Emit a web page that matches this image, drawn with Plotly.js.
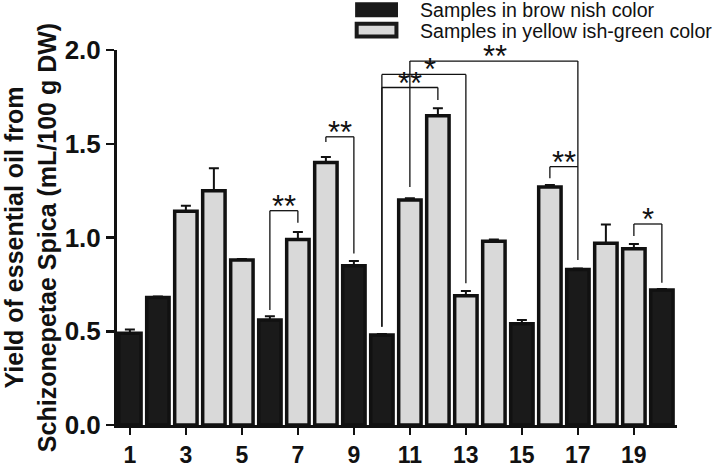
<!DOCTYPE html>
<html>
<head>
<meta charset="utf-8">
<script src="https://cdn.plot.ly/plotly-3.0.1.min.js"></script>
<style>html,body{margin:0;padding:0;background:#fff;}#chart{width:720px;height:467px;}</style>
</head>
<body>
<div id="chart"></div>
<script>
// ---- data ----
const samples = [1,2,3,4,5,6,7,8,9,10,11,12,13,14,15,16,17,18,19,20];
const colorGroup = ['B','B','G','G','G','B','G','G','B','B','G','G','G','G','B','G','B','G','G','B']; // B = brownish, G = yellowish-green
const yieldMean = [0.49,0.68,1.14,1.25,0.88,0.56,0.99,1.40,0.85,0.48,1.20,1.65,0.69,0.98,0.54,1.27,0.83,0.97,0.94,0.72];
const yieldSD   = [0.02,0.005,0.03,0.12,0.005,0.02,0.04,0.03,0.025,0.005,0.01,0.04,0.025,0.01,0.02,0.01,0.005,0.10,0.025,0.005];
const groupNames = {B: 'Samples in brow nish color', G: 'Samples in yellow ish-green color'};
const xTickVals = [1,3,5,7,9,11,13,15,17,19];
const yTickVals = [0.0,0.5,1.0,1.5,2.0];
// significance brackets: [left sample, right sample, bracket level, left leg bottom, right leg bottom, label, label x, label y]
const brackets = [
  [6, 7, 1.143, 0.613, 1.079, '**', 6.5, 1.143],
  [8, 9, 1.537, 1.51, 0.915, '**', 8.5, 1.537],
  [10, 12, 1.80, 0.524, 1.733, '**', 11.0, 1.80],
  [10, 13, 1.87, 0.524, 0.756, '*', 11.72, 1.87],
  [11, 17, 1.941, 1.27, 0.88, '**', 14.04, 1.941],
  [16, 17, 1.378, 1.316, 1.378, '**', 16.5, 1.378],
  [19, 20, 1.072, 1.008, 0.759, '*', 19.5, 1.072]
];

const FONT = '"Liberation Sans", Arial, sans-serif';
const fillColors = {B: '#1a1a1a', G: '#d9d9d9'};

function groupTrace(g) {
  const xs = [], ys = [], es = [];
  samples.forEach((s, i) => { if (colorGroup[i] === g) { xs.push(s); ys.push(yieldMean[i]); es.push(yieldSD[i]); } });
  return {
    type: 'bar', x: xs, y: ys, name: groupNames[g], width: 0.8, showlegend: false,
    marker: {color: fillColors[g], line: {color: '#111', width: 3.5}},
    error_y: {type: 'data', array: es, arrayminus: es.map(() => 0), symmetric: false, color: '#111', thickness: 2, width: 5}
  };
}
const traces = [groupTrace('B'), groupTrace('G')];

const shapes = [];
const annotations = [];
brackets.forEach(b => {
  const [l, r, lev, lb, rb, lab, lx, ly] = b;
  const line = {color: '#111', width: 1.3};
  shapes.push({type: 'line', xref: 'x', yref: 'y', x0: l, x1: l, y0: lb, y1: lev, line});
  shapes.push({type: 'line', xref: 'x', yref: 'y', x0: l, x1: r, y0: lev, y1: lev, line});
  shapes.push({type: 'line', xref: 'x', yref: 'y', x0: r, x1: r, y0: rb, y1: lev, line});
  annotations.push({xref: 'x', yref: 'y', x: lx, y: ly, text: lab, showarrow: false, xanchor: 'center', yanchor: 'bottom', yshift: -15,
    font: {family: FONT, size: 31, color: '#111'}});
});
// legend drawn manually
shapes.push({type: 'rect', xref: 'paper', yref: 'paper', x0: 0.427, x1: 0.5, y0: 1.09, y1: 1.125, fillcolor: '#1a1a1a', line: {color: '#1a1a1a', width: 2}});
shapes.push({type: 'rect', xref: 'paper', yref: 'paper', x0: 0.428, x1: 0.499, y0: 1.036, y1: 1.07, fillcolor: '#d9d9d9', line: {color: '#1a1a1a', width: 4}});
annotations.push({xref: 'paper', yref: 'paper', x: 0.5375, y: 1.106, xanchor: 'left', yanchor: 'middle', showarrow: false, text: groupNames.B, font: {family: FONT, size: 19.6, color: '#111'}});
annotations.push({xref: 'paper', yref: 'paper', x: 0.5375, y: 1.05, xanchor: 'left', yanchor: 'middle', showarrow: false, text: groupNames.G, font: {family: FONT, size: 19.6, color: '#111'}});

const layout = {
  width: 720, height: 467,
  margin: {l: 117, r: 43, t: 50, b: 42},
  paper_bgcolor: '#fff', plot_bgcolor: '#fff',
  barmode: 'overlay',
  showlegend: false,
  xaxis: {
    range: [0.54, 20.54], tickvals: xTickVals, ticktext: xTickVals.map(v => '<b>' + v + '</b>'),
    showline: true, linecolor: '#111', linewidth: 3, ticks: 'outside', ticklen: 7, tickwidth: 2.5, tickcolor: '#111',
    showgrid: false, zeroline: false, tickfont: {family: FONT, size: 23, color: '#111'}
  },
  yaxis: {
    range: [0, 2.0], tickvals: yTickVals, ticktext: yTickVals.map(v => '<b>' + v.toFixed(1) + '</b>'),
    showline: true, linecolor: '#111', linewidth: 3, ticks: 'outside', ticklen: 8, tickwidth: 2.5, tickcolor: '#111',
    showgrid: false, zeroline: false, tickfont: {family: FONT, size: 26, color: '#111'},
    title: {text: '<b>Yield of essential oil from<br>Schizonepetae Spica (mL/100 g DW)</b>', font: {family: FONT, size: 25, color: '#111'}, standoff: 4}
  },
  shapes, annotations
};
Plotly.newPlot('chart', traces, layout, {staticPlot: true, displayModeBar: false});
</script>
</body>
</html>
